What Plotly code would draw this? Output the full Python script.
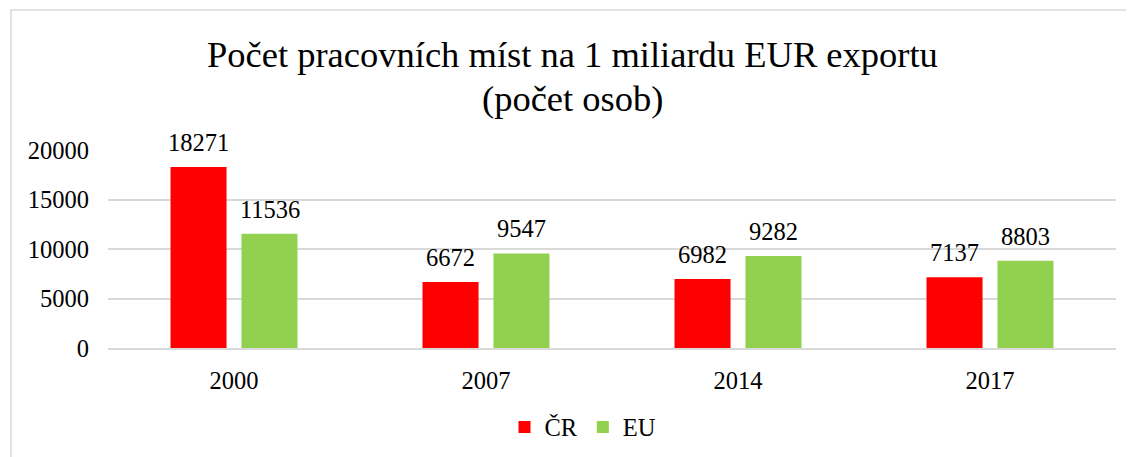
import plotly.graph_objects as go

categories = ["2000", "2007", "2014", "2017"]
cr_values = [18271, 6672, 6982, 7137]
eu_values = [11536, 9547, 9282, 8803]
series_names = ["ČR", "EU"]
y_ticks = [0, 5000, 10000, 15000, 20000]
title_lines = ["Počet pracovních míst na 1 miliardu EUR exportu", "(počet osob)"]

# page body has an 8px margin; work in page pixel coordinates and subtract it
OFF = 8
W, H = 1134 - OFF, 457 - OFF
PL, PR, PT, PB = 108, 1116, 150, 348  # plot area in page pixels
L, R, T, B = PL - OFF, (W + OFF) - PR, PT - OFF, (H + OFF) - PB
pw, ph = PR - PL, PB - PT

FONT = "Liberation Serif"
FS = 24.5
colors = ["#FF0000", "#92D050"]

fig = go.Figure()
for name, vals, col in zip(series_names, [cr_values, eu_values], colors):
    fig.add_trace(go.Bar(x=categories, y=vals, name=name,
                         marker=dict(color=col, line=dict(width=0))))

def px_x(p):
    return (p - PL) / pw

def px_y(p):
    return (PB - p) / ph

annotations = []
# data labels above bars (x given as category index on the category axis)
for vals, dx in zip([cr_values, eu_values], [-35.5, 35.5]):
    for i, v in enumerate(vals):
        annotations.append(dict(x=i, y=v, xref="x", yref="y", text=str(v),
                                showarrow=False, xshift=dx, yshift=9,
                                yanchor="bottom", xanchor="center",
                                font=dict(size=FS, family=FONT, color="#000000")))
# title lines
for line, cy in zip(title_lines, [55, 98]):
    annotations.append(dict(x=px_x(572), y=px_y(cy), xref="paper", yref="paper",
                            text=line, showarrow=False, xanchor="center", yanchor="middle",
                            font=dict(size=36.5, family=FONT, color="#000000")))

fig.update_layout(
    width=W, height=H,
    margin=dict(l=L, r=R, t=T, b=B, autoexpand=False),
    paper_bgcolor="white", plot_bgcolor="white",
    font=dict(family=FONT, size=FS, color="#000000"),
    barmode="group", bargap=0.437, bargroupgap=0.21,
    showlegend=True,
    legend=dict(orientation="h", x=px_x(583), xanchor="center", y=px_y(427), yanchor="middle",
                font=dict(size=FS, family=FONT), itemwidth=30, traceorder="normal"),
    xaxis=dict(type="category", range=[-0.5, len(categories) - 0.5],
               showgrid=False, showline=True, linecolor="#d9d9d9", linewidth=1.5,
               ticks="", tickfont=dict(size=FS, family=FONT), ticklabelstandoff=10),
    yaxis=dict(range=[0, 20000], tickvals=y_ticks, tickformat="d", showgrid=True,
               gridcolor="#d9d9d9", gridwidth=1.5, zeroline=False, showline=False, ticks="",
               tickfont=dict(size=FS, family=FONT), ticklabelstandoff=18),
    annotations=annotations,
    shapes=[dict(type="rect", xref="paper", yref="paper",
                 x0=px_x(11), x1=px_x(1134 + 20), y0=px_y(457 + 20), y1=px_y(10),
                 line=dict(color="#d9d9d9", width=1.5), fillcolor="rgba(0,0,0,0)", layer="below")],
)

fig.write_html("out.html")
